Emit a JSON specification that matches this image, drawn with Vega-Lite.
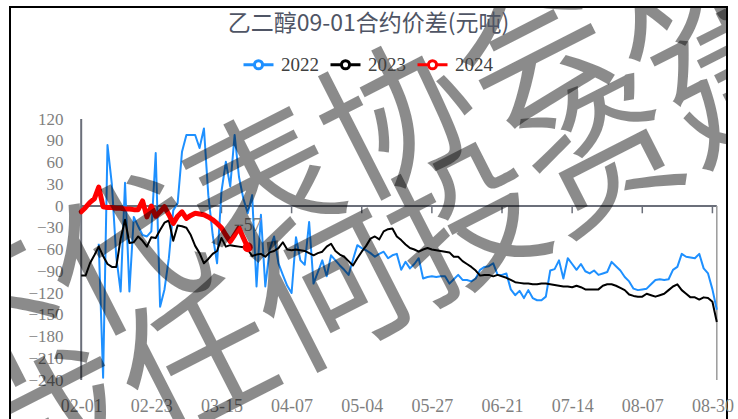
{
  "$schema": "https://vega.github.io/schema/vega-lite/v6.json",
  "width": 717,
  "height": 430,
  "autosize": {"type": "none"},
  "padding": {"left": 10, "top": 7, "right": 11, "bottom": 0},
  "background": "white",
  "config": {
    "view": {"stroke": "#000000", "strokeWidth": 2},
    "axisY": {"offset": -69, "domain": false, "ticks": false, "tickSize": 0, "grid": false, "labelPadding": 16, "labelFont": "Liberation Serif", "labelFontSize": 17, "labelColor": "#7f7f7f", "labelOverlap": false, "labelBound": false, "title": null},
    "axisX": {"orient": "bottom", "offset": -40, "domain": false, "ticks": false, "tickSize": 0, "labelPadding": 0, "labelAngle": 0, "labelBaseline": "top", "labelFont": "Liberation Serif", "labelFontSize": 18, "labelColor": "#7f7f7f", "labelOverlap": false, "grid": false, "title": null}
  },
  "title": {"text": "乙二醇09-01合约价差(元吨)", "anchor": "middle", "frame": "group", "offset": -29, "font": "Noto Sans CJK SC", "fontSize": 23, "fontWeight": "normal", "color": "#4f5565"},
  "datasets": {
    "main": [
      {"d": "02-01", "2023": -96, "2024": -8},
      {"d": "02-02", "2023": -96, "2024": -2},
      {"d": "02-03", "2023": -79, "2024": 5},
      {"d": "02-04", "2023": -68, "2024": 10},
      {"d": "02-07", "2022": -52, "2023": -56, "2024": 26},
      {"d": "02-08", "2022": -237, "2023": -69, "2024": -1},
      {"d": "02-09", "2022": 84, "2023": -80, "2024": -2},
      {"d": "02-10", "2022": 30, "2023": -84, "2024": -2},
      {"d": "02-11", "2022": -70, "2023": -84, "2024": -3},
      {"d": "02-14", "2022": -118, "2023": -45, "2024": -3},
      {"d": "02-15", "2022": 32, "2023": -19, "2024": -4},
      {"d": "02-16", "2022": -118, "2023": -51, "2024": -4},
      {"d": "02-17", "2022": -15, "2023": -50, "2024": -5},
      {"d": "02-18", "2022": -28, "2023": -42, "2024": -5},
      {"d": "02-21", "2022": -40, "2023": -48, "2024": 7},
      {"d": "02-22", "2022": -42, "2023": -56, "2024": -15},
      {"d": "02-23", "2022": -35, "2023": -43, "2024": 0},
      {"d": "02-24", "2022": 73, "2023": -44, "2024": -14},
      {"d": "02-25", "2022": -139, "2023": -33, "2024": -8},
      {"d": "02-28", "2022": -115, "2023": -23, "2024": -1},
      {"d": "03-01", "2022": -72, "2023": -20, "2024": -12},
      {"d": "03-02", "2022": -6, "2023": -48, "2024": -24},
      {"d": "03-03", "2022": 4, "2023": -27, "2024": -14},
      {"d": "03-04", "2022": 75, "2023": -28, "2024": -8},
      {"d": "03-06", "2022": 98, "2023": -30, "2024": -17},
      {"d": "03-07", "2022": 98, "2023": -40, "2024": -13},
      {"d": "03-08", "2022": 98, "2023": -55, "2024": -10},
      {"d": "03-09", "2022": 80, "2023": -65, "2024": -11},
      {"d": "03-10", "2022": 107, "2023": -79, "2024": -12},
      {"d": "03-11", "2022": 15, "2023": -73, "2024": -15},
      {"d": "03-13", "2022": -40, "2023": -66, "2024": -19},
      {"d": "03-14", "2022": -79, "2023": -62, "2024": -24},
      {"d": "03-15", "2022": 20, "2023": -44, "2024": -30},
      {"d": "03-16", "2022": 61, "2023": -56, "2024": -40},
      {"d": "03-17", "2022": 27, "2023": -54, "2024": -49},
      {"d": "03-18", "2022": 98, "2023": -55, "2024": -40},
      {"d": "03-20", "2022": 40, "2023": -56, "2024": -30},
      {"d": "03-21", "2022": 10, "2023": -57, "2024": -44},
      {"d": "03-22", "2022": -10, "2023": -60, "2024": -57},
      {"d": "03-23", "2022": 15, "2023": -69},
      {"d": "03-24", "2022": -111, "2023": -67},
      {"d": "03-27", "2022": -12, "2023": -66},
      {"d": "03-28", "2022": -111, "2023": -70},
      {"d": "03-29", "2022": -60, "2023": -64},
      {"d": "03-30", "2022": -42, "2023": -62},
      {"d": "03-31", "2022": -79, "2023": -58},
      {"d": "04-03", "2022": -95, "2023": -50},
      {"d": "04-06", "2022": -110, "2023": -60},
      {"d": "04-07", "2022": -120, "2023": -61},
      {"d": "04-10", "2022": -43, "2023": -60},
      {"d": "04-11", "2022": -75, "2023": -61},
      {"d": "04-12", "2022": -81, "2023": -62},
      {"d": "04-13", "2022": -22, "2023": -65},
      {"d": "04-14", "2022": -107, "2023": -68},
      {"d": "04-17", "2022": -91, "2023": -65},
      {"d": "04-18", "2022": -75, "2023": -63},
      {"d": "04-19", "2022": -97, "2023": -56},
      {"d": "04-20", "2022": -68, "2023": -52},
      {"d": "04-21", "2022": -75, "2023": -62},
      {"d": "04-24", "2022": -82, "2023": -67},
      {"d": "04-25", "2022": -88, "2023": -70},
      {"d": "04-26", "2022": -95, "2023": -76},
      {"d": "04-27", "2022": -74, "2023": -82},
      {"d": "04-28", "2022": -54, "2023": -72},
      {"d": "05-04", "2022": -58, "2023": -63},
      {"d": "05-05", "2022": -61, "2023": -55},
      {"d": "05-08", "2022": -65, "2023": -45},
      {"d": "05-09", "2022": -70, "2023": -42},
      {"d": "05-10", "2022": -66, "2023": -46},
      {"d": "05-11", "2022": -63, "2023": -35},
      {"d": "05-12", "2022": -72, "2023": -32},
      {"d": "05-15", "2022": -68, "2023": -31},
      {"d": "05-16", "2022": -66, "2023": -42},
      {"d": "05-17", "2022": -88, "2023": -47},
      {"d": "05-18", "2022": -77, "2023": -53},
      {"d": "05-19", "2022": -86, "2023": -58},
      {"d": "05-22", "2022": -80, "2023": -60},
      {"d": "05-23", "2022": -72, "2023": -63},
      {"d": "05-24", "2022": -100, "2023": -60},
      {"d": "05-25", "2022": -98, "2023": -58},
      {"d": "05-27", "2022": -97, "2023": -60},
      {"d": "05-29", "2022": -98, "2023": -61},
      {"d": "05-30", "2022": -97, "2023": -62},
      {"d": "05-31", "2022": -97, "2023": -63},
      {"d": "06-01", "2022": -107, "2023": -64},
      {"d": "06-02", "2022": -101, "2023": -70},
      {"d": "06-05", "2022": -95, "2023": -70},
      {"d": "06-06", "2022": -102, "2023": -76},
      {"d": "06-07", "2022": -102, "2023": -80},
      {"d": "06-08", "2022": -104, "2023": -84},
      {"d": "06-09", "2022": -100, "2023": -89},
      {"d": "06-12", "2022": -88, "2023": -96},
      {"d": "06-13", "2022": -84, "2023": -95},
      {"d": "06-14", "2022": -83, "2023": -95},
      {"d": "06-15", "2022": -79, "2023": -97},
      {"d": "06-19", "2022": -95, "2023": -95},
      {"d": "06-21", "2022": -95, "2023": -97},
      {"d": "06-22", "2022": -93, "2023": -99},
      {"d": "06-23", "2022": -115, "2023": -102},
      {"d": "06-26", "2022": -123, "2023": -105},
      {"d": "06-27", "2022": -117, "2023": -106},
      {"d": "06-28", "2022": -127, "2023": -107},
      {"d": "06-29", "2022": -116, "2023": -107},
      {"d": "06-30", "2022": -127, "2023": -108},
      {"d": "07-03", "2022": -130, "2023": -108},
      {"d": "07-04", "2022": -130, "2023": -107},
      {"d": "07-05", "2022": -125, "2023": -107},
      {"d": "07-06", "2022": -89, "2023": -108},
      {"d": "07-07", "2022": -87, "2023": -109},
      {"d": "07-10", "2022": -75, "2023": -110},
      {"d": "07-11", "2022": -100, "2023": -111},
      {"d": "07-12", "2022": -72, "2023": -111},
      {"d": "07-14", "2022": -80, "2023": -112},
      {"d": "07-17", "2022": -88, "2023": -110},
      {"d": "07-18", "2022": -80, "2023": -112},
      {"d": "07-19", "2022": -90, "2023": -115},
      {"d": "07-20", "2022": -93, "2023": -115},
      {"d": "07-21", "2022": -89, "2023": -115},
      {"d": "07-24", "2022": -95, "2023": -115},
      {"d": "07-25", "2022": -93, "2023": -110},
      {"d": "07-26", "2022": -91, "2023": -108},
      {"d": "07-27", "2022": -77, "2023": -108},
      {"d": "07-28", "2022": -83, "2023": -110},
      {"d": "07-31", "2022": -89, "2023": -113},
      {"d": "08-01", "2022": -98, "2023": -116},
      {"d": "08-02", "2022": -104, "2023": -122},
      {"d": "08-03", "2022": -114, "2023": -124},
      {"d": "08-04", "2022": -116, "2023": -125},
      {"d": "08-07", "2022": -115, "2023": -125},
      {"d": "08-08", "2022": -114, "2023": -121},
      {"d": "08-09", "2022": -108, "2023": -123},
      {"d": "08-10", "2022": -102, "2023": -125},
      {"d": "08-11", "2022": -101, "2023": -123},
      {"d": "08-14", "2022": -102, "2023": -121},
      {"d": "08-15", "2022": -101, "2023": -116},
      {"d": "08-16", "2022": -88, "2023": -111},
      {"d": "08-17", "2022": -84, "2023": -108},
      {"d": "08-18", "2022": -66, "2023": -116},
      {"d": "08-21", "2022": -70, "2023": -121},
      {"d": "08-22", "2022": -71, "2023": -126},
      {"d": "08-23", "2022": -72, "2023": -126},
      {"d": "08-24", "2022": -66, "2023": -129},
      {"d": "08-25", "2022": -86, "2023": -126},
      {"d": "08-28", "2022": -93, "2023": -127},
      {"d": "08-30", "2022": -115, "2023": -132},
      {"d": "08-31", "2022": -143, "2023": -160}
    ],
    "ticks": [
      {"d": "02-01"}, {"d": "02-23"}, {"d": "03-15"}, {"d": "04-07"}, {"d": "05-04"},
      {"d": "05-27"}, {"d": "06-21"}, {"d": "07-14"}, {"d": "08-07"}, {"d": "08-30"}
    ],
    "wm": [
      {"d": "05-17", "v": 111, "t": "不代表协会观点"},
      {"d": "04-21", "v": -128, "t": "不构成任何投资建议"}
    ]
  },
  "layer": [
    {
      "data": {"values": [{}]},
      "mark": {"type": "rule", "color": "#6b6f7a", "strokeWidth": 2},
      "encoding": {
        "x": {"datum": "02-01", "type": "ordinal"},
        "x2": {"datum": "08-31"},
        "y": {"datum": 0, "type": "quantitative"}
      }
    },
    {
      "data": {"values": [{}]},
      "mark": {"type": "rule", "color": "#6b6f7a", "strokeWidth": 2},
      "encoding": {
        "x": {"datum": "02-01", "type": "ordinal"},
        "y": {"datum": -240, "type": "quantitative"},
        "y2": {"datum": 120}
      }
    },
    {
      "data": {"values": [{}]},
      "mark": {"type": "rule", "color": "#9a9a9a", "strokeWidth": 1.5},
      "encoding": {
        "x": {"datum": "08-31", "type": "ordinal"},
        "y": {"datum": -240, "type": "quantitative"},
        "y2": {"datum": 0}
      }
    },
    {
      "data": {"name": "ticks"},
      "mark": {"type": "rule", "color": "#6b6f7a", "strokeWidth": 1.5},
      "encoding": {
        "x": {"field": "d", "type": "ordinal"},
        "y": {"datum": 0, "type": "quantitative"},
        "y2": {"datum": -10}
      }
    },
    {
      "data": {"name": "main"},
      "transform": [
        {"fold": ["2022", "2023", "2024"], "as": ["year", "value"]},
        {"filter": "isValid(datum.value)"}
      ],
      "layer": [
        {
          "transform": [{"filter": "datum.year == '2022'"}],
          "mark": {"type": "line", "strokeWidth": 2, "strokeJoin": "round"},
          "encoding": {
            "x": {
              "field": "d", "type": "ordinal",
              "scale": {"type": "point", "range": [69, 709]},
              "axis": {"values": ["02-01", "02-23", "03-15", "04-07", "05-04", "05-27", "06-21", "07-14", "08-07", "08-30"]}
            },
            "y": {
              "field": "value", "type": "quantitative",
              "scale": {"domain": [-318.6, 274.5], "nice": false, "zero": false},
              "axis": {"values": [-240, -210, -180, -150, -120, -90, -60, -30, 0, 30, 60, 90, 120], "labelOverlap": false, "tickCount": 13, "labelSeparation": 0}
            },
            "color": {
              "field": "year", "type": "nominal",
              "scale": {"domain": ["2022", "2023", "2024"], "range": ["#1e90ff", "#000000", "#ff0000"]},
              "legend": {
                "orient": "none", "legendX": 232, "legendY": 41, "direction": "horizontal", "title": null,
                "symbolType": "M-1,0L-0.27,0M0.27,0L1,0M-0.27,0A0.27,0.27 0 1,0 0.27,0A0.27,0.27 0 1,0 -0.27,0",
                "symbolSize": 900, "symbolStrokeWidth": 3, "symbolFillColor": "#ffffff",
                "labelFont": "Liberation Serif", "labelFontSize": 19, "labelColor": "#404040",
                "labelOffset": 6, "columnPadding": 5
              }
            }
          }
        },
        {
          "transform": [{"filter": "datum.year == '2023'"}],
          "mark": {"type": "line", "strokeWidth": 2, "strokeJoin": "round"},
          "encoding": {
            "x": {"field": "d", "type": "ordinal"},
            "y": {"field": "value", "type": "quantitative"},
            "color": {"field": "year", "type": "nominal"}
          }
        },
        {
          "transform": [{"filter": "datum.year == '2024'"}],
          "mark": {"type": "line", "strokeWidth": 5, "strokeJoin": "round", "strokeCap": "round"},
          "encoding": {
            "x": {"field": "d", "type": "ordinal"},
            "y": {"field": "value", "type": "quantitative"},
            "color": {"field": "year", "type": "nominal"}
          }
        },
        {
          "transform": [{"filter": "datum.year == '2024' && datum.d == '03-22'"}],
          "mark": {"type": "circle", "size": 100, "opacity": 1, "color": "#ff0000"},
          "encoding": {
            "x": {"field": "d", "type": "ordinal"},
            "y": {"field": "value", "type": "quantitative"}
          }
        },
        {
          "transform": [{"filter": "datum.year == '2024' && datum.d == '03-22'"}],
          "mark": {"type": "text", "dy": -21, "font": "Liberation Serif", "fontSize": 18, "color": "#7f7f7f", "align": "center", "baseline": "middle"},
          "encoding": {
            "x": {"field": "d", "type": "ordinal"},
            "y": {"field": "value", "type": "quantitative"},
            "text": {"field": "value", "type": "quantitative", "format": "d"}
          }
        }
      ]
    },
    {
      "data": {"name": "wm"},
      "mark": {"type": "text", "angle": -27, "fontSize": 152, "font": "Noto Sans CJK SC", "color": "#000000", "opacity": 0.45, "align": "center", "baseline": "middle", "clip": true},
      "encoding": {
        "x": {"field": "d", "type": "ordinal"},
        "y": {"field": "v", "type": "quantitative"},
        "text": {"field": "t"}
      }
    }
  ]
}
